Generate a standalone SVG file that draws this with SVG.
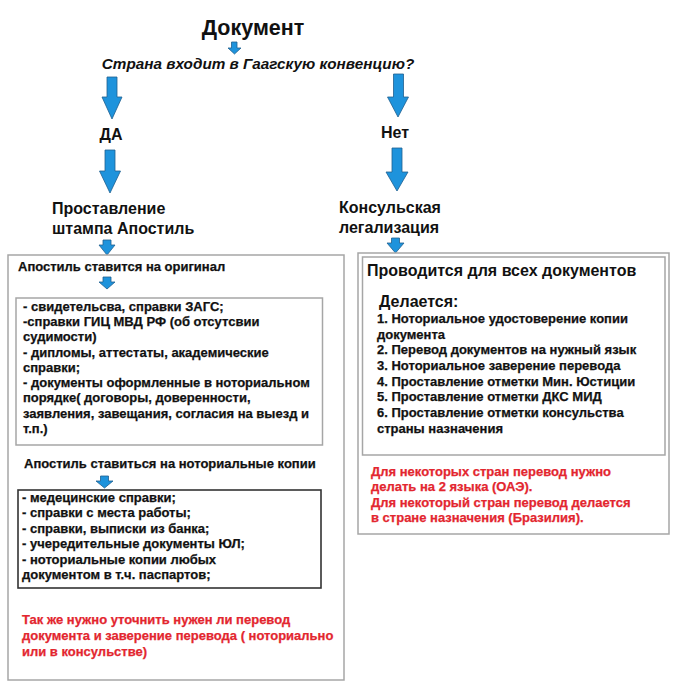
<svg xmlns="http://www.w3.org/2000/svg" width="678" height="700" viewBox="0 0 678 700">
<style>
text{font-family:"Liberation Sans",Arial,sans-serif;font-weight:bold;fill:#111}
.t{font-size:21.5px}
.q{font-size:15.3px;font-style:italic}
.h{font-size:16px}
.s{font-size:13px;stroke:#111;stroke-width:0.25}
.r{fill:#e3262f;stroke:#e3262f}
.arr{fill:#1e93dc;stroke:#1f5f8f;stroke-width:0.8}
.box{fill:#fff;stroke:#a6a6a6;stroke-width:1.5}
.box2{fill:#fff;stroke:#333;stroke-width:1.6}
</style>
<rect width="678" height="700" fill="#fff"/>
<g id="connectors">
<polygon class="arr" points="231.5,42 237,42 237,48 241,48 234.5,54 228,48 231.5,48"/>
<polygon class="arr" points="107,77 117,77 117,97 122,97 112,119 102,97 107,97"/>
<polygon class="arr" points="105,150 115,150 115,171 120.5,171 110,193 99.5,171 105,171"/>
<polygon class="arr" points="393.5,74 403.5,74 403.5,97 408.5,97 398,117 387.5,97 393.5,97"/>
<polygon class="arr" points="392,148 402,148 402,172 408,172 397,191 386,172 392,172"/>
<polygon class="arr" points="103,240 111,240 111,245 115,245 107,255 99,245 103,245"/>
<polygon class="arr" points="391.5,238 399.5,238 399.5,243 404,243 395.5,253 387,243 391.5,243"/>
</g>
<g id="n-doc"><text class="t" x="253" y="35" text-anchor="middle">Документ</text></g>
<g id="n-question"><text class="q" x="258" y="69" text-anchor="middle">Страна входит в Гаагскую конвенцию?</text></g>
<g id="n-yes"><text class="h" x="111" y="140" text-anchor="middle">ДА</text></g>
<g id="n-no"><text class="h" x="395" y="138" text-anchor="middle">Нет</text></g>
<g id="n-apostille"><text class="h" x="52" y="214">Проставление</text><text class="h" x="52" y="234">штампа Апостиль</text></g>
<g id="n-consular"><text class="h" x="339" y="213">Консульская</text><text class="h" x="339" y="233">легализация</text></g>
<g id="n-left-box">
<rect class="box" x="8" y="255" width="336" height="425"/>
<text class="s" x="18" y="271">Апостиль ставится на оригинал</text>
<polygon class="arr" points="103,277 111,277 111,282 115,282 107,289 99,282 103,282"/>
<rect class="box" x="16" y="298" width="306.5" height="147"/>
<text class="s" x="23" y="311">- свидетельсва, справки ЗАГС;</text>
<text class="s" x="23" y="326">-справки ГИЦ МВД РФ (об отсутсвии</text>
<text class="s" x="23" y="341">судимости)</text>
<text class="s" x="23" y="357">- дипломы, аттестаты, академические</text>
<text class="s" x="23" y="372">справки;</text>
<text class="s" x="23" y="387">- документы оформленные в ноториальном</text>
<text class="s" x="23" y="402">порядке( договоры, доверенности,</text>
<text class="s" x="23" y="418">заявления, завещания, согласия на выезд и</text>
<text class="s" x="23" y="433">т.п.)</text>
<text class="s" x="24" y="468">Апостиль ставиться на ноториальные копии</text>
<polygon class="arr" points="100.5,476 108.5,476 108.5,481 113,481 104.5,488 96,481 100.5,481"/>
<rect class="box2" x="18" y="490" width="303" height="98"/>
<text class="s" x="22" y="502">- медецинские справки;</text>
<text class="s" x="22" y="517">- справки с места работы;</text>
<text class="s" x="22" y="533">- справки, выписки из банка;</text>
<text class="s" x="22" y="548">- учередительные документы ЮЛ;</text>
<text class="s" x="22" y="564">- ноториальные копии любых</text>
<text class="s" x="22" y="579">документом в т.ч. паспартов;</text>
<text class="s r" x="22" y="624">Так же нужно уточнить нужен ли перевод</text>
<text class="s r" x="22" y="640">документа и заверение перевода ( ноториально</text>
<text class="s r" x="22" y="656">или в консульстве)</text>
</g>
<g id="n-right-box">
<rect class="box" x="358" y="253" width="311" height="281"/>
<rect class="box" x="362.5" y="257" width="302.5" height="198"/>
<text class="h" x="367" y="276">Проводится для всех документов</text>
<text class="h" x="379" y="307">Делается:</text>
<text class="s" x="377" y="323">1. Ноториальное удостоверение копии</text>
<text class="s" x="377" y="339">документа</text>
<text class="s" x="377" y="354">2. Перевод документов на нужный язык</text>
<text class="s" x="377" y="370">3. Ноториальное заверение перевода</text>
<text class="s" x="377" y="386">4. Проставление отметки Мин. Юстиции</text>
<text class="s" x="377" y="401">5. Проставление отметки ДКС МИД</text>
<text class="s" x="377" y="417">6. Проставление отметки консульства</text>
<text class="s" x="377" y="433">страны назначения</text>
<text class="s r" x="371" y="476">Для некоторых стран перевод нужно</text>
<text class="s r" x="371" y="491">делать на 2 языка (ОАЭ).</text>
<text class="s r" x="371" y="507">Для некоторый стран перевод делается</text>
<text class="s r" x="371" y="522">в стране назначения (Бразилия).</text>
</g>
</svg>
